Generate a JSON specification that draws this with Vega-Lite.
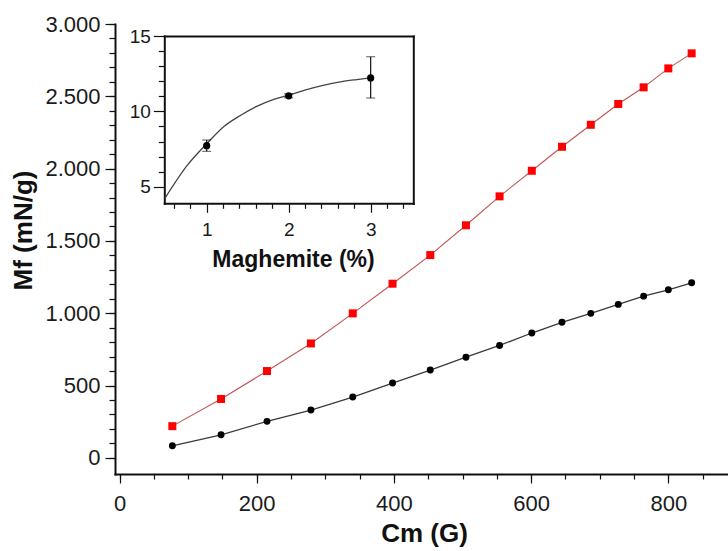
{
  "$schema": "https://vega.github.io/schema/vega-lite/v6.json",
  "width": 613,
  "height": 450,
  "autosize": {"type": "none"},
  "padding": {"left": 115, "top": 24, "right": 0, "bottom": 77},
  "background": "white",
  "config": {
    "view": {"stroke": null},
    "axis": {
      "grid": false,
      "labelFont": "Liberation Sans",
      "titleFont": "Liberation Sans",
      "labelColor": "#1a1a1a",
      "titleColor": "#111111",
      "tickColor": "#111111",
      "domainColor": "#111111",
      "domainCap": "square",
      "tickWidth": 1.2
    }
  },
  "datasets": {
    "main": [
      {"cm": 77, "black": 83, "red": 219},
      {"cm": 148, "black": 159, "red": 407},
      {"cm": 215, "black": 252, "red": 600},
      {"cm": 279, "black": 330, "red": 791},
      {"cm": 340, "black": 420, "red": 999},
      {"cm": 398, "black": 517, "red": 1204},
      {"cm": 453, "black": 607, "red": 1402},
      {"cm": 505, "black": 696, "red": 1608},
      {"cm": 554, "black": 777, "red": 1808},
      {"cm": 601, "black": 863, "red": 1985},
      {"cm": 645, "black": 937, "red": 2151},
      {"cm": 687, "black": 999, "red": 2303},
      {"cm": 727, "black": 1061, "red": 2447},
      {"cm": 764, "black": 1118, "red": 2562},
      {"cm": 800, "black": 1162, "red": 2693},
      {"cm": 834, "black": 1210, "red": 2797}
    ],
    "inset": [
      {"m": 1, "t": 7.72, "lo": 7.35, "hi": 8.1},
      {"m": 2, "t": 11.03, "lo": 10.9, "hi": 11.16},
      {"m": 3, "t": 12.22, "lo": 10.88, "hi": 13.62}
    ],
    "fit": [
      {"m": 0.49, "t": 4.23},
      {"m": 0.76, "t": 6.4},
      {"m": 1.0, "t": 7.85},
      {"m": 1.2, "t": 8.95},
      {"m": 1.41, "t": 9.73},
      {"m": 1.61, "t": 10.33},
      {"m": 1.81, "t": 10.78},
      {"m": 2.0, "t": 11.07},
      {"m": 2.22, "t": 11.45},
      {"m": 2.42, "t": 11.73},
      {"m": 2.63, "t": 11.96},
      {"m": 2.83, "t": 12.11},
      {"m": 3.0, "t": 12.22}
    ]
  },
  "layer": [
    {
      "layer": [
        {
          "mark": {"type": "rule", "color": "#111111", "strokeWidth": 2},
          "encoding": {
            "y": {"datum": 3000, "type": "quantitative", "scale": {"domain": [-112, 3000], "nice": false, "zero": false}, "axis": null}
          }
        },
        {
          "data": {"name": "main"},
          "mark": {"type": "line", "color": "#3a3a3a", "strokeWidth": 1.3},
          "encoding": {
            "x": {
              "field": "cm", "type": "quantitative",
              "scale": {"domain": [-6.6, 887], "nice": false, "zero": false},
              "axis": {
                "orient": "bottom", "values": [0, 200, 400, 600, 800], "format": "d",
                "tickSize": 9, "domainWidth": 2, "labelFontSize": 22, "labelPadding": 10,
                "title": "Cm (G)", "titleFontSize": 26, "titleFontWeight": "bold",
                "titleBaseline": "alphabetic", "titleAlign": "center", "titleX": 309, "titleY": 67
              }
            },
            "y": {
              "field": "black", "type": "quantitative",
              "scale": {"domain": [-112, 3000], "nice": false, "zero": false},
              "axis": {
                "orient": "left", "values": [0, 500, 1000, 1500, 2000, 2500, 3000],
                "labelExpr": "replace(format(datum.value, ','), ',', '.')",
                "tickSize": 10, "domainWidth": 2, "labelFontSize": 22, "labelPadding": 5,
                "title": "Mf (mN/g)", "titleFontSize": 26, "titleFontWeight": "bold",
                "titleAngle": -90, "titleBaseline": "middle", "titleAlign": "center", "titleX": -92, "titleY": 206
              }
            }
          }
        },
        {
          "data": {"name": "main"},
          "mark": {"type": "point", "shape": "circle", "filled": true, "size": 48, "color": "#000000", "opacity": 1},
          "encoding": {
            "x": {"field": "cm", "type": "quantitative", "scale": {"domain": [-6.6, 887], "nice": false, "zero": false}, "axis": null},
            "y": {"field": "black", "type": "quantitative", "scale": {"domain": [-112, 3000], "nice": false, "zero": false}, "axis": null}
          }
        },
        {
          "data": {"name": "main"},
          "mark": {"type": "line", "color": "#c05555", "strokeWidth": 1.1},
          "encoding": {
            "x": {
              "field": "cm", "type": "quantitative",
              "scale": {"domain": [-6.6, 887], "nice": false, "zero": false},
              "axis": {
                "orient": "bottom", "values": [0, 50, 100, 150, 200, 250, 300, 350, 400, 450, 500, 550, 600, 650, 700, 750, 800, 850],
                "tickSize": 5, "domain": false, "labels": false, "title": null
              }
            },
            "y": {
              "field": "red", "type": "quantitative",
              "scale": {"domain": [-112, 3000], "nice": false, "zero": false},
              "axis": {
                "orient": "left", "values": [0, 100, 200, 300, 400, 500, 600, 700, 800, 900, 1000, 1100, 1200, 1300, 1400, 1500, 1600, 1700, 1800, 1900, 2000, 2100, 2200, 2300, 2400, 2500, 2600, 2700, 2800, 2900, 3000],
                "tickSize": 6, "domain": false, "labels": false, "title": null
              }
            }
          }
        },
        {
          "data": {"name": "main"},
          "mark": {"type": "point", "shape": "square", "filled": true, "size": 64, "color": "#ff0000", "opacity": 1},
          "encoding": {
            "x": {"field": "cm", "type": "quantitative", "scale": {"domain": [-6.6, 887], "nice": false, "zero": false}, "axis": null},
            "y": {"field": "red", "type": "quantitative", "scale": {"domain": [-112, 3000], "nice": false, "zero": false}, "axis": null}
          }
        }
      ],
      "resolve": {"axis": {"x": "independent", "y": "independent"}}
    },
    {
      "layer": [
        {
          "data": {"name": "fit"},
          "mark": {"type": "line", "color": "#444444", "strokeWidth": 1.3, "interpolate": "monotone"},
          "encoding": {
            "x": {
              "field": "m", "type": "quantitative",
              "scale": {"domain": [0.483, 3.52], "nice": false, "zero": false, "range": [49.3, 298.3]},
              "axis": {
                "orient": "bottom", "offset": -270.7, "values": [1, 2, 3], "format": "d",
                "tickSize": 9, "domain": true, "domainWidth": 2, "labelFontSize": 19, "labelPadding": 8,
                "title": "Maghemite (%)", "titleFontSize": 23, "titleFontWeight": "bold",
                "titleBaseline": "alphabetic", "titleAlign": "center", "titleX": 178, "titleY": 63
              }
            },
            "y": {
              "field": "t", "type": "quantitative",
              "scale": {"domain": [3.9, 15], "nice": false, "zero": false, "range": [179.3, 12]},
              "axis": {
                "orient": "left", "offset": -49.3, "values": [5, 10, 15], "format": "d",
                "tickSize": 11, "domain": true, "domainWidth": 2, "labelFontSize": 19, "labelPadding": 3, "title": null
              }
            }
          }
        },
        {
          "data": {"name": "inset"},
          "mark": {"type": "point", "opacity": 0},
          "encoding": {
            "x": {
              "field": "m", "type": "quantitative",
              "scale": {"domain": [0.483, 3.52], "nice": false, "zero": false, "range": [49.3, 298.3]},
              "axis": {"orient": "top", "offset": -12, "ticks": false, "labels": false, "title": null, "domain": true, "domainWidth": 2}
            },
            "y": {
              "field": "t", "type": "quantitative",
              "scale": {"domain": [3.9, 15], "nice": false, "zero": false, "range": [179.3, 12]},
              "axis": {"orient": "right", "offset": -314.7, "ticks": false, "labels": false, "title": null, "domain": true, "domainWidth": 2}
            }
          }
        },
        {
          "data": {"name": "inset"},
          "mark": {"type": "errorbar", "ticks": {"size": 9, "color": "#111111", "strokeWidth": 1.2}, "rule": {"color": "#111111", "strokeWidth": 1.2}},
          "encoding": {
            "x": {"field": "m", "type": "quantitative", "scale": {"domain": [0.483, 3.52], "nice": false, "zero": false, "range": [49.3, 298.3]}, "axis": null},
            "y": {"field": "lo", "type": "quantitative", "scale": {"domain": [3.9, 15], "nice": false, "zero": false, "range": [179.3, 12]}, "axis": null},
            "y2": {"field": "hi"}
          }
        },
        {
          "data": {"name": "inset"},
          "mark": {"type": "point", "shape": "circle", "filled": true, "size": 52, "color": "#000000", "opacity": 1},
          "encoding": {
            "x": {
              "field": "m", "type": "quantitative",
              "scale": {"domain": [0.483, 3.52], "nice": false, "zero": false, "range": [49.3, 298.3]},
              "axis": {
                "orient": "bottom", "offset": -270.7,
                "values": [0.6, 0.8, 1.2, 1.4, 1.6, 1.8, 2.2, 2.4, 2.6, 2.8, 3.2, 3.4],
                "tickSize": 5, "domain": false, "labels": false, "title": null
              }
            },
            "y": {
              "field": "t", "type": "quantitative",
              "scale": {"domain": [3.9, 15], "nice": false, "zero": false, "range": [179.3, 12]},
              "axis": {
                "orient": "left", "offset": -49.3,
                "values": [6, 7, 8, 9, 11, 12, 13, 14],
                "tickSize": 6, "domain": false, "labels": false, "title": null
              }
            }
          }
        }
      ],
      "resolve": {"axis": {"x": "independent", "y": "independent"}}
    }
  ],
  "resolve": {
    "scale": {"x": "independent", "y": "independent"},
    "axis": {"x": "independent", "y": "independent"}
  }
}
